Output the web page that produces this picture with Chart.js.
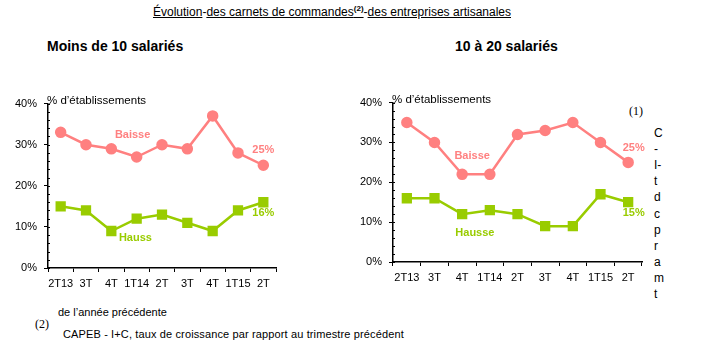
<!DOCTYPE html>
<html><head><meta charset="utf-8">
<script src="https://cdn.jsdelivr.net/npm/chart.js@4"></script>
<style>
body{margin:0;width:725px;height:353px;background:#fff;position:relative;overflow:hidden;font-family:"Liberation Sans",Arial,sans-serif;color:#000}
.t{position:absolute;white-space:nowrap}
canvas{position:absolute}
</style></head><body>
<div class="t" id="title" style="left:153px;top:4px;font-size:12px"><u>Évolution</u>-<u>des carnets de commandes<sup style="font-size:8px;font-weight:bold">(2)</sup></u>-<u>des entreprises artisanales</u></div>
<div class="t" style="left:47px;top:38px;font-size:14px;font-weight:bold">Moins de 10 salariés</div>
<div class="t" style="left:455px;top:38px;font-size:14px;font-weight:bold">10 à 20 salariés</div>
<div class="t" style="left:629px;top:104px;font-size:12px;font-family:'Liberation Serif',serif">(1)</div>
<div id="vert"></div>
<div class="t" style="left:58px;top:306px;font-size:11px">de l’année précédente</div>
<div class="t" style="left:35px;top:317px;font-size:12px;font-family:'Liberation Serif',serif">(2)</div>
<div class="t" style="left:63px;top:328px;font-size:11px;letter-spacing:0.13px">CAPEB - I+C, taux de croissance par rapport au trimestre précédent</div>
<canvas id="c1" width="290" height="215" style="left:0;top:90px;width:290px;height:215px"></canvas>
<canvas id="c2" width="310" height="210" style="left:345px;top:89px;width:310px;height:210px"></canvas>
<script>
const categories = ["2T13","3T","4T","1T14","2T","3T","4T","1T15","2T"];
const yTicks = [0,10,20,30,40];
const baisseSmall = [33,30,29,27,30,29,37,28,25];
const hausseSmall = [15,14,9,12,13,11,9,14,16];
const baisseMid = [35,30,22,22,32,33,35,30,25];
const hausseMid = [16,16,12,13,12,9,9,17,15];
const labelsSmall = [
  {text:"Baisse", x:2.84, y:32.3, color:"#FF8080"},
  {text:"Hauss", x:2.95, y:7.2, color:"#99CC00"},
  {text:"25%", x:8.0, y:28.6, color:"#FF8080"},
  {text:"16%", x:8.0, y:13.3, color:"#99CC00"}
];
const labelsMid = [
  {text:"Baisse", x:2.36, y:26.5, color:"#FF8080"},
  {text:"Hausse", x:2.46, y:7.4, color:"#99CC00"},
  {text:"25%", x:8.2, y:28.5, color:"#FF8080"},
  {text:"15%", x:8.2, y:12.2, color:"#99CC00"}
];
const vertLetters = ["C","-","I-","t","d","c","p","r","a","m","t"];

const vert = document.getElementById('vert');
vertLetters.forEach((l,i)=>{
  const d=document.createElement('div');d.className='t';
  d.style.cssText=`left:654px;top:${126+i*16.1}px;font-size:12px`;
  d.textContent=l;vert.appendChild(d);
});

const pink="#FF8080", green="#99CC00";
const textPlugin = {
  id:'txt',
  afterDatasetsDraw(chart, args, opts){
    const {ctx, scales:{x,y}} = chart;
    ctx.save();
    ctx.font = "bold 11px 'Liberation Sans', Arial";
    ctx.textAlign='center'; ctx.textBaseline='middle';
    opts.items.forEach(it=>{
      const step = x.getPixelForValue(1)-x.getPixelForValue(0);
      const px = x.getPixelForValue(0) + it.x*step;
      ctx.fillStyle = it.color;
      ctx.fillText(it.text, px, y.getPixelForValue(it.y));
    });
    ctx.fillStyle='#000'; ctx.font="11.5px 'Liberation Sans', Arial";
    ctx.textAlign='left';
    ctx.fillText("% d’établissements", chart.chartArea.left-1, chart.chartArea.top-3);
    ctx.strokeStyle='#000'; ctx.lineWidth=1;
    for(let v=0; v<=40; v+=2){
      const py=Math.round(y.getPixelForValue(v))+0.5;
      ctx.beginPath();ctx.moveTo(chart.chartArea.left,py);ctx.lineTo(chart.chartArea.left+2,py);ctx.stroke();
    }
    ctx.restore();
  }
};

function makeChart(id, b, h, labels){
  return new Chart(document.getElementById(id), {
    type:'line',
    data:{labels:categories, datasets:[
      {data:b, borderColor:pink, backgroundColor:pink, borderWidth:2.5, pointStyle:'circle', pointRadius:4.5, tension:0},
      {data:h, borderColor:green, backgroundColor:green, borderWidth:2.5, pointStyle:'rect', pointRadius:5.5, tension:0}
    ]},
    options:{
      responsive:false, animation:false,
      layout:{padding:{top:10,right:id==='c1'?14:13,left:0,bottom:0}},
      plugins:{legend:{display:false}, tooltip:{enabled:false}, txt:{items:labels}},
      scales:{
        x:{offset:true,
           grid:{display:true, drawOnChartArea:false, drawTicks:true, tickLength:4, color:'#000', offset:true},
           border:{display:true, color:'#000', width:1.5},
           ticks:{color:'#000', font:{family:"'Liberation Sans', Arial", size:11}, padding:5, maxRotation:0, autoSkip:false},
           afterFit(s){s.height=37;}},
        y:{min:0,max:40,
           afterBuildTicks(s){s.ticks=yTicks.map(v=>({value:v}));},
           grid:{display:true, drawOnChartArea:false, drawTicks:true, tickLength:4, color:'#000'},
           border:{display:true, color:'#000', width:1.5},
           ticks:{color:'#000', font:{family:"'Liberation Sans', Arial", size:11}, padding:7, callback:v=>v+'%'},
           afterFit(s){s.width=48;}}
      }
    },
    plugins:[textPlugin]
  });
}
makeChart('c1', baisseSmall, hausseSmall, labelsSmall);
makeChart('c2', baisseMid, hausseMid, labelsMid);
</script>
</body></html>
